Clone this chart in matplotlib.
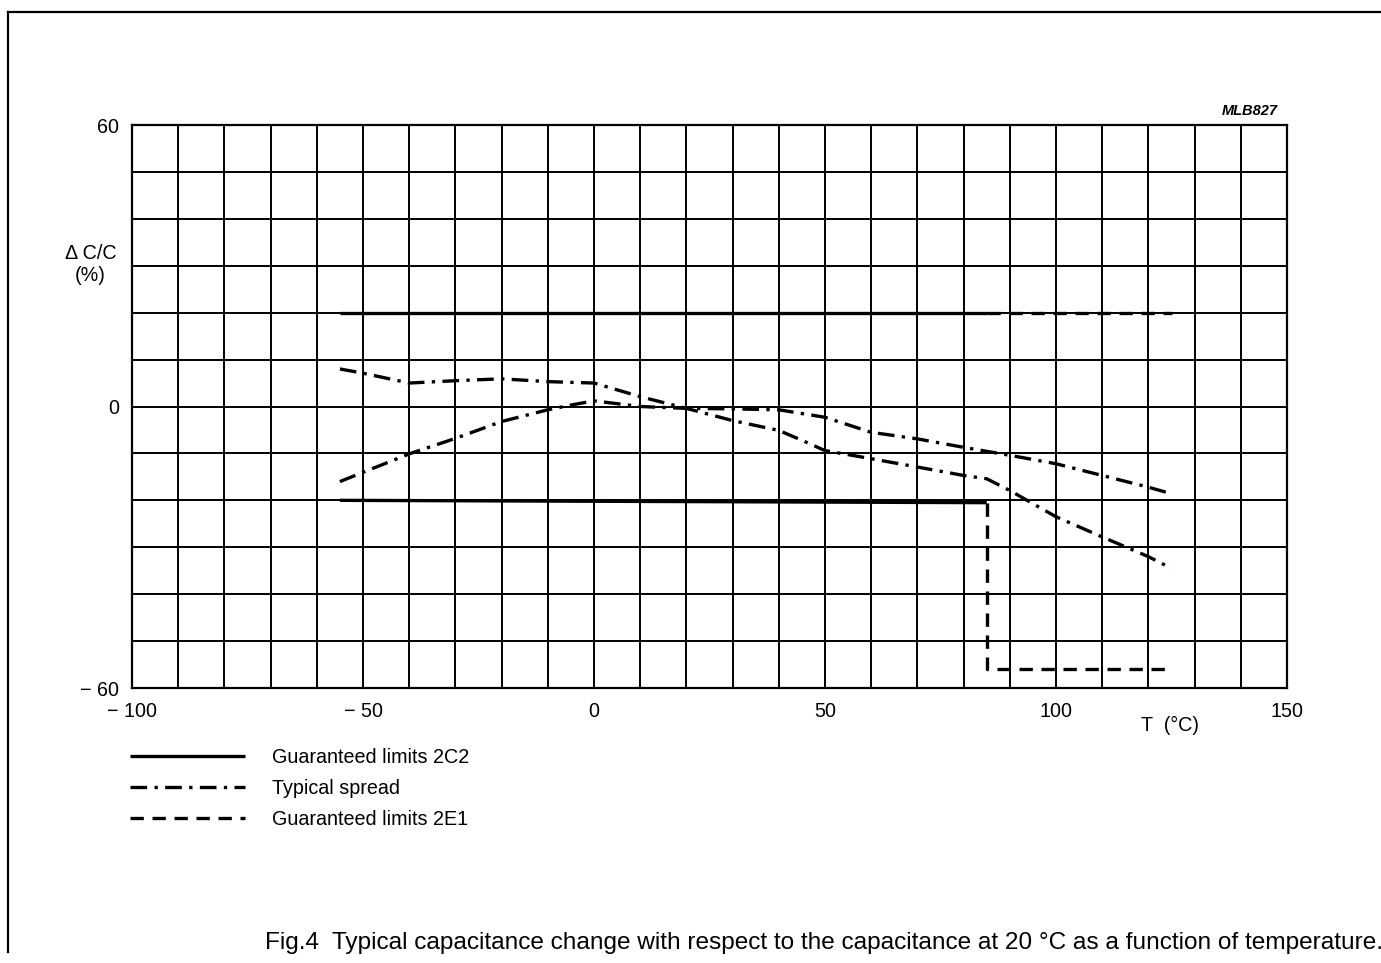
import matplotlib
matplotlib.use("Agg")
import matplotlib.pyplot as plt
from matplotlib.lines import Line2D

plt.rcParams['font.family'] = ['Liberation Sans', 'DejaVu Sans']

# ---- data ----
temp_2c2 = [-55, 85]
upper_2c2 = [20, 20]
lower_2c2 = [-20, -20.5]

temp_2e1_upper = [85, 125]
upper_2e1 = [20, 20]
temp_2e1_lower = [85, 85, 125]
lower_2e1 = [-20.5, -56, -56]

temp_spread_upper = [-55, -50, -40, -30, -20, -10, 0, 10, 20, 30, 40, 45, 50, 57, 70, 80, 85, 90, 100, 110, 120, 125]
spread_upper = [8, 7.1, 5.0, 5.5, 5.9, 5.3, 5.0, 2.1, -0.4, -3.0, -5.1, -7.2, -9.4, -10.6, -12.9, -14.7, -15.4, -17.9, -23.5, -27.8, -32, -34.5]

temp_spread_lower = [-55, -40, -30, -20, -10, -4.5, 0, 10, 20, 30, 40, 50, 60, 70, 80, 90, 100, 110, 120, 125]
spread_lower = [-16, -10.1, -6.8, -3.2, -0.7, 0.4, 1.2, 0.0, -0.4, -0.5, -0.7, -2.3, -5.5, -6.9, -8.7, -10.4, -12.2, -14.7, -17.2, -18.6]

x_tick_vals = [-100, -50, 0, 50, 100, 150]
x_tick_labels = ['\u2212 100', '\u2212 50', '0', '50', '100', '150']
y_tick_vals = [-60, 0, 60]
y_tick_labels = ['\u2212 60', '0', '60']

legend_labels = ['Guaranteed limits 2C2', 'Typical spread', 'Guaranteed limits 2E1']

# ---- figure ----
W, H = 1381, 963
FS = 14.2
fig = plt.figure(figsize=(W / 100, H / 100), dpi=100)
ax = fig.add_axes([132 / W, (H - 688) / H, (1287 - 132) / W, (688 - 125) / H])

ax.set_xlim(-100, 150)
ax.set_ylim(-60, 60)
ax.set_xticks(range(-100, 151, 10))
ax.set_yticks(range(-60, 61, 10))
ax.set_xticklabels([x_tick_labels[x_tick_vals.index(v)] if v in x_tick_vals else '' for v in range(-100, 151, 10)])
ax.set_yticklabels([y_tick_labels[y_tick_vals.index(v)] if v in y_tick_vals else '' for v in range(-60, 61, 10)])
ax.tick_params(length=0, labelsize=FS, colors='black')
ax.tick_params(axis='x', pad=10)
ax.tick_params(axis='y', pad=9)
ax.grid(True, color='black', linewidth=1.4)
ax.set_axisbelow(True)
for s in ax.spines.values():
    s.set_linewidth(1.6)
    s.set_color('black')

lw = 2.4
solid, = ax.plot(temp_2c2, upper_2c2, color='black', lw=lw, solid_capstyle='butt')
ax.plot(temp_2c2, lower_2c2, color='black', lw=lw, solid_capstyle='butt')
dashdot_style = (0, (5, 2.2, 1, 2.2))
dd, = ax.plot(temp_spread_upper, spread_upper, color='black', lw=lw, linestyle=dashdot_style)
ax.plot(temp_spread_lower, spread_lower, color='black', lw=lw, linestyle=dashdot_style)
dash_style = (0, (4, 2.6))
dsh, = ax.plot(temp_2e1_upper, upper_2e1, color='black', lw=lw, linestyle=dash_style)
ax.plot(temp_2e1_lower, lower_2e1, color='black', lw=lw, linestyle=dash_style)

ax.set_ylabel('\u0394 C/C\n(%)', rotation=0, fontsize=FS, ha='center', va='center', linespacing=1.25)
ax.yaxis.set_label_coords(-0.036, 0.752)
ax.set_xlabel('T  (\u00b0C)', fontsize=FS, ha='center', va='center')
ax.xaxis.set_label_coords(0.899, -0.066)

ax.text(0.968, 1.012, 'MLB827', transform=ax.transAxes, fontsize=10.5, fontweight='bold',
        fontstyle='italic', ha='center', va='bottom')

leg = fig.legend([solid, dd, dsh], legend_labels, loc='upper left',
                 bbox_to_anchor=(130 / W, (H - 748) / H), frameon=False, fontsize=FS,
                 handlelength=5.85, handletextpad=1.35, labelspacing=0.6, borderpad=0,
                 borderaxespad=0)

fig.text(265 / W, (H - 943) / H,
         'Fig.4  Typical capacitance change with respect to the capacitance at 20 \u00b0C as a function of temperature.',
         fontsize=17.6, ha='left', va='center')

# page border lines
fig.add_artist(Line2D([8 / W, 1.0], [(H - 12) / H, (H - 12) / H], color='black', lw=1.6))
fig.add_artist(Line2D([8 / W, 8 / W], [(H - 12) / H, (H - 952) / H], color='black', lw=1.6))

fig.savefig('out.png', dpi=100)
